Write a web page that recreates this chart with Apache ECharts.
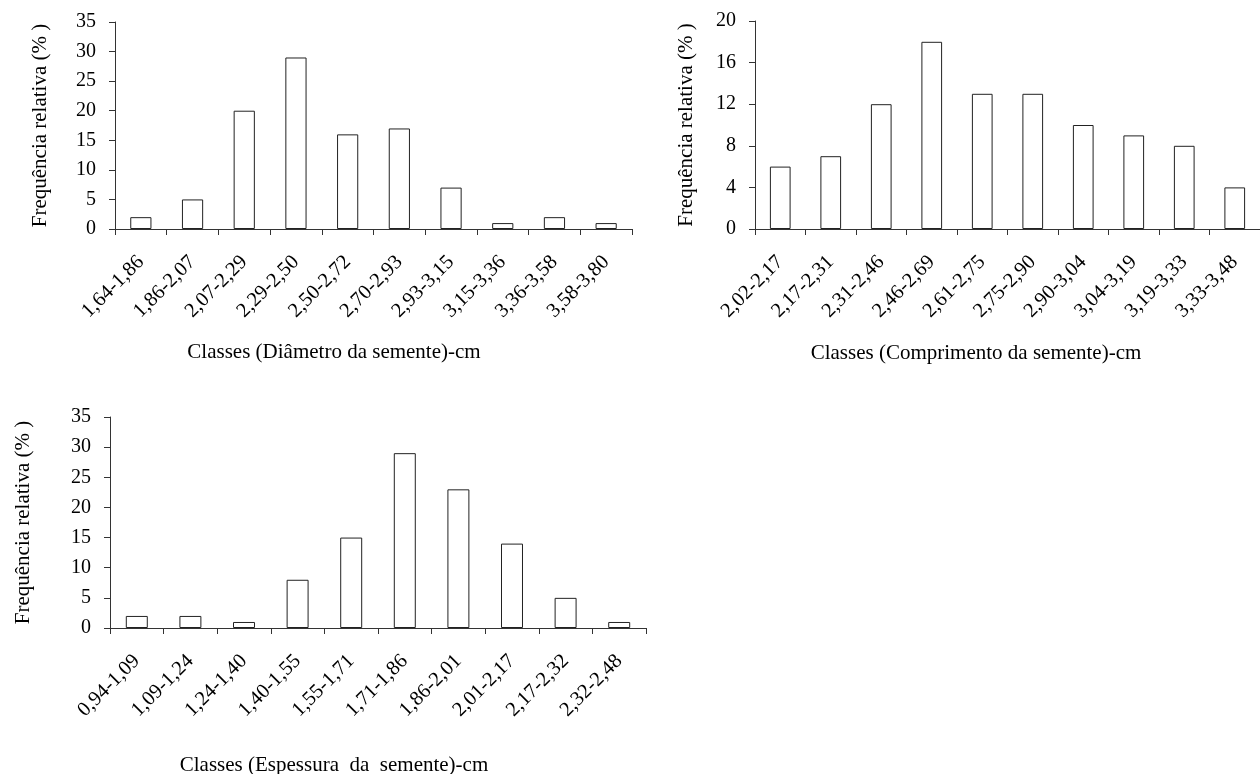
<!DOCTYPE html>
<html><head><meta charset="utf-8">
<script src="https://cdn.jsdelivr.net/npm/echarts@6/dist/echarts.min.js"></script>
<style>html,body{margin:0;padding:0;background:#fff}#c{width:1260px;height:774px}</style>
</head><body><div id="c"></div>
<script>
const diamCats = ['1,64-1,86','1,86-2,07','2,07-2,29','2,29-2,50','2,50-2,72','2,70-2,93','2,93-3,15','3,15-3,36','3,36-3,58','3,58-3,80'];
const diamVals = [2,5,20,29,16,17,7,1,2,1];
const compCats = ['2,02-2,17','2,17-2,31','2,31-2,46','2,46-2,69','2,61-2,75','2,75-2,90','2,90-3,04','3,04-3,19','3,19-3,33','3,33-3,48'];
const compVals = [6,7,12,18,13,13,10,9,8,4];
const espCats = ['0,94-1,09','1,09-1,24','1,24-1,40','1,40-1,55','1,55-1,71','1,71-1,86','1,86-2,01','2,01-2,17','2,17-2,32','2,32-2,48'];
const espVals = [2,2,1,8,15,29,23,14,5,1];
const yTitle = 'Frequência relativa (% )';
const xTitles = ['Classes (Diâmetro da semente)-cm','Classes (Comprimento da semente)-cm','Classes (Espessura  da  semente)-cm'];

const FONT = 'Liberation Serif';
const AX = '#333';
const chart = echarts.init(document.getElementById('c'), null, {renderer:'canvas'});

function xAx(i, cats){
  return {type:'category', gridIndex:i, data:cats, boundaryGap:true,
    axisLine:{show:true, lineStyle:{color:AX, width:1}},
    axisTick:{show:true, inside:false, length:6, alignWithLabel:false, lineStyle:{color:AX}},
    axisLabel:{rotate:45, margin:30, fontFamily:FONT, fontSize:20.5, color:'#000', interval:0},
    splitLine:{show:false}};
}
function yAx(i, max, interval, gap){
  return {type:'value', gridIndex:i, min:0, max:max, interval:interval,
    name:yTitle, nameLocation:'middle', nameGap:gap, nameRotate:90,
    nameTextStyle:{fontFamily:FONT, fontSize:21, color:'#000'},
    axisLine:{show:true, lineStyle:{color:AX, width:1}},
    axisTick:{show:true, inside:false, length:6, lineStyle:{color:AX}},
    axisLabel:{margin:19, fontFamily:FONT, fontSize:20, color:'#000'},
    splitLine:{show:false}};
}
function ser(i, vals){
  return {type:'bar', xAxisIndex:i, yAxisIndex:i, data:vals, barWidth:'41%',
    itemStyle:{color:'#fff', borderColor:'#222', borderWidth:1}, silent:true};
}
const titleFont = '21px "Liberation Serif"';
chart.setOption({
  animation:false,
  backgroundColor:'#fff',
  grid:[
    {left:115, top:22, width:517, height:207},
    {left:755, top:21, width:513, height:208},
    {left:110, top:417, width:536, height:211}
  ],
  xAxis:[xAx(0,diamCats), xAx(1,compCats), xAx(2,espCats)],
  yAxis:[yAx(0,35,5,64), yAx(1,20,4,58), yAx(2,35,5,76)],
  series:[ser(0,diamVals), ser(1,compVals), ser(2,espVals)],
  graphic:[
    {type:'text', x:334, y:352, style:{text:xTitles[0], font:titleFont, fill:'#000', textAlign:'center', textVerticalAlign:'middle'}},
    {type:'text', x:976, y:353, style:{text:xTitles[1], font:titleFont, fill:'#000', textAlign:'center', textVerticalAlign:'middle'}},
    {type:'text', x:334, y:765, style:{text:xTitles[2], font:titleFont, fill:'#000', textAlign:'center', textVerticalAlign:'middle'}}
  ]
});
</script></body></html>
